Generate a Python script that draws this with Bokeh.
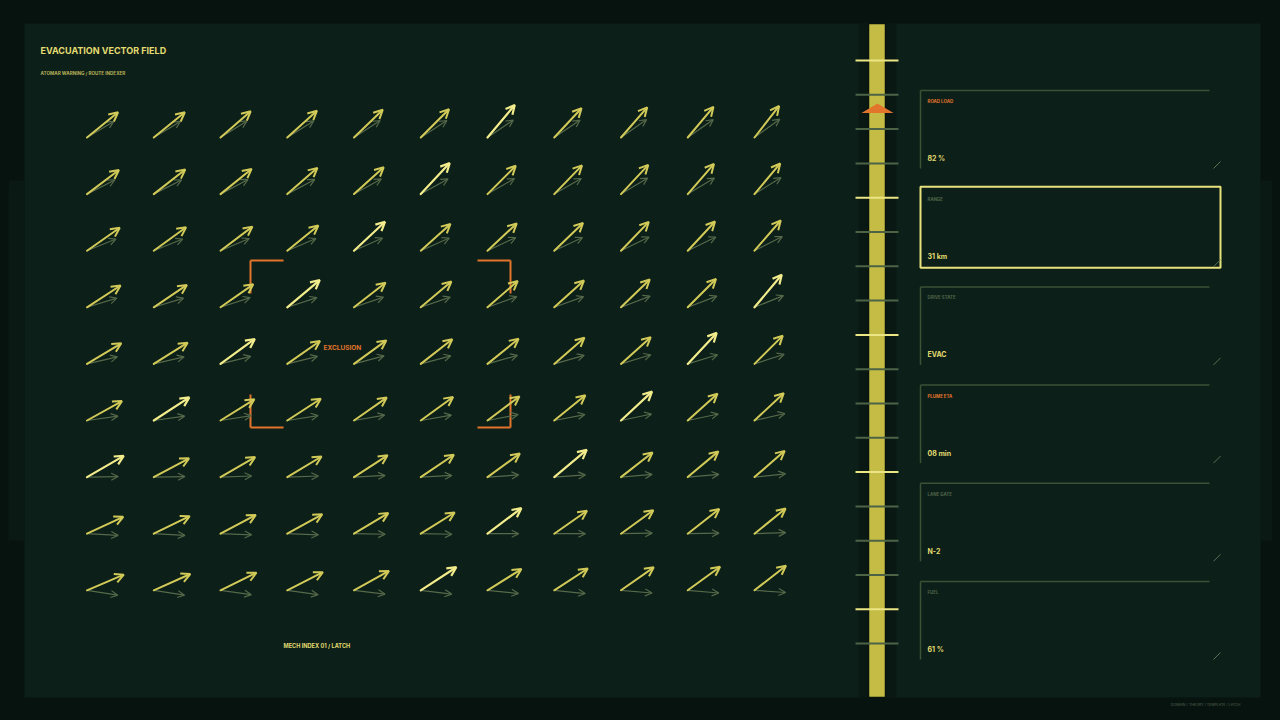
import numpy as np
from bokeh.plotting import figure
from bokeh.models import Range1d, Arrow, OpenHead, ColumnDataSource, Label
from bokeh.embed import file_html
from bokeh.resources import INLINE

# ---------------- data ----------------
title = "EVACUATION VECTOR FIELD"
subtitle = "ATOMAR WARNING / ROUTE INDEXER"
footer_note = "MECH INDEX 01 / LATCH"
credit_note = "DOMAIN / THEORY / TEMPLATE / LATCH"
zone_label = "EXCLUSION"

# routed flow direction (degrees above horizontal), rows top->bottom, cols left->right
flow_angle = [
    [39, 39, 41, 42, 44, 45, 47, 47, 49, 50, 52],
    [37, 38, 39, 41, 42, 44, 45, 46, 47, 49, 50],
    [35, 36, 37, 39, 40, 42, 43, 44, 46, 47, 49],
    [33, 34, 35, 37, 38, 40, 41, 42, 44, 45, 47],
    [31, 32, 33, 35, 36, 38, 39, 41, 42, 44, 45],
    [29, 30, 32, 33, 35, 36, 37, 39, 40, 42, 43],
    [27, 28, 30, 31, 33, 34, 36, 37, 38, 40, 41],
    [25, 26, 28, 29, 31, 32, 34, 35, 36, 38, 39],
    [23, 24, 26, 27, 29, 30, 32, 33, 35, 36, 38],
]
# raw (unrouted) wind direction, degrees
base_angle = [
    [31, 31, 32, 32, 33, 33, 34, 34, 35, 35, 36],
    [27, 27, 28, 28, 29, 29, 30, 30, 31, 31, 32],
    [22, 22, 23, 23, 24, 24, 25, 25, 26, 26, 27],
    [17, 17, 18, 18, 19, 19, 20, 20, 21, 21, 22],
    [13, 13, 14, 14, 15, 15, 16, 16, 17, 17, 18],
    [8, 8, 9, 9, 10, 10, 11, 11, 12, 12, 13],
    [1, 1, 2, 2, 3, 3, 4, 4, 5, 5, 6],
    [-3, -3, -2, -2, -1, -1, 0, 0, 1, 1, 2],
    [-9, -9, -8, -8, -7, -7, -6, -6, -5, -5, -4],
]
flow_speed = 1.0
base_speed = 0.78
# latched cells (row, col) with boosted flow
latched_cells = [(0, 6), (1, 5), (2, 4), (3, 3), (3, 10), (4, 2), (4, 9),
                 (5, 1), (5, 8), (6, 0), (6, 7), (7, 6), (8, 5)]
latched_speed = 1.06
latched_turn = 3

card_labels = ["ROAD LOAD", "RANGE", "DRIVE STATE", "PLUME ETA", "LANE GATE", "FUEL"]
card_values = ["82 %", "31 km", "EVAC", "08 min", "N-2", "61 %"]
card_alert = [True, False, False, True, False, False]
active_card = 1

gauge_ticks = 18
gauge_major_every = 4
gauge_marker = 1.4  # in tick units from the top

# ---------------- style ----------------
BG = "#07130f"
BAND = "#0a1914"
PANEL = "#0c1f18"
YEL = "#d2ca58"
YEL_HI = "#f2ec8c"
FAINT = "#56694a"
ORANGE = "#e2742c"
CARD_LINE = "#3b5236"
DIM_TXT = "#4f6449"
TXT = "#e4dc72"

W, H = 1264, 704
p = figure(width=W, height=H, x_range=Range1d(8, 8 + W), y_range=Range1d(8 + H, 8),
           output_backend="svg", toolbar_location=None, x_axis_type=None, y_axis_type=None,
           min_border=0, background_fill_color=BG, border_fill_color=BG)
p.outline_line_color = None
p.xgrid.visible = False
p.ygrid.visible = False

# backdrop bands + panel
p.quad(left=[8, 1260], right=[24, 1272], top=[180, 180], bottom=[540, 540],
       fill_color=BAND, line_color=None)
p.quad(left=[24], right=[1260], top=[23], bottom=[697], fill_color=PANEL, line_color=None)
p.quad(left=[858], right=[896], top=[23], bottom=[697], fill_color="#0a1813", line_color=None)

# ---------------- vector field ----------------
gx0, gdx = 86.5, 66.75
gy0, gdy = 137.0, 56.6
L = 40.0
fa = np.radians(np.array(flow_angle, dtype=float))
ba = np.radians(np.array(base_angle, dtype=float))
rows, cols = np.indices(fa.shape)
tx = gx0 + cols * gdx
ty = gy0 + rows * gdy

latched = np.zeros(fa.shape, dtype=bool)
for r, c in latched_cells:
    latched[r, c] = True
sp = np.where(latched, latched_speed, flow_speed)
fa2 = fa + np.where(latched, np.radians(latched_turn), 0.0)

bx = tx + L * base_speed * np.cos(ba)
by = ty - L * base_speed * np.sin(ba)
fx = tx + L * sp * np.cos(fa2)
fy = ty - L * sp * np.sin(fa2)

def add_arrows(mask, xe, ye, color, width, head):
    src = ColumnDataSource(dict(x0=tx[mask], y0=ty[mask], x1=xe[mask], y1=ye[mask]))
    p.add_layout(Arrow(source=src, x_start="x0", y_start="y0", x_end="x1", y_end="y1",
                       line_color=color, line_width=width, line_cap="round",
                       end=OpenHead(size=head, line_color=color, line_width=width)))

allm = np.ones(fa.shape, dtype=bool)
add_arrows(allm, bx, by, FAINT, 1.2, 7)
add_arrows(~latched, fx, fy, YEL, 2.0, 9)
add_arrows(latched, fx, fy, YEL_HI, 2.2, 9)

# exclusion zone brackets
zx0, zx1, zy0, zy1, arm = 250, 510, 260, 427, 33
bx0 = [zx0, zx0, zx1 - arm, zx1, zx0, zx0, zx1 - arm, zx1]
by0 = [zy0, zy0, zy0, zy0, zy1, zy1 - arm, zy1, zy1 - arm]
bx1 = [zx0 + arm, zx0, zx1, zx1, zx0 + arm, zx0, zx1, zx1]
by1 = [zy0, zy0 + arm, zy0, zy0 + arm, zy1, zy1, zy1, zy1]
p.segment(x0=bx0, y0=by0, x1=bx1, y1=by1, line_color=ORANGE, line_width=2)
p.add_layout(Label(x=323, y=347, text=zone_label, text_font="Inter", text_font_style="bold",
                   text_font_size="6.5px", text_color=ORANGE, text_baseline="middle"))

# titles
p.add_layout(Label(x=40, y=50, text=title, text_font="Inter", text_font_style="bold",
                   text_font_size="9px", text_color=TXT, text_baseline="middle"))
p.add_layout(Label(x=40, y=73, text=subtitle, text_font="Inter", text_font_style="bold",
                   text_font_size="4.6px", text_color="#b8b05a", text_baseline="middle"))
p.add_layout(Label(x=283, y=645, text=footer_note, text_font="Inter", text_font_style="bold",
                   text_font_size="5.6px", text_color=TXT, text_baseline="middle"))
p.add_layout(Label(x=1240, y=704, text=credit_note, text_font="Inter",
                   text_font_size="3.6px", text_color="#55664f", text_baseline="middle",
                   text_align="right"))

# ---------------- gauge ----------------
p.quad(left=[868], right=[885], top=[23], bottom=[697], fill_color="#c5bc46",
       line_color="#08130e", line_width=1.5)
t0, tstep = 60.0, 34.3
ty_g = t0 + np.arange(gauge_ticks) * tstep
major = (np.arange(gauge_ticks) % gauge_major_every) == 0
p.segment(x0=855, x1=898, y0=ty_g[~major], y1=ty_g[~major], line_color="#4d6346", line_width=2)
p.segment(x0=855, x1=898, y0=ty_g[major], y1=ty_g[major], line_color="#ece584", line_width=2)
my = t0 + gauge_marker * tstep
p.patch(x=[877, 893, 861], y=[my - 5, my + 4.5, my + 4.5], fill_color=ORANGE, line_color=None)

# ---------------- cards ----------------
cx0, cx1, ctop0, cstep, ch = 920, 1209, 90.0, 98.2, 78
for i, (lab, val) in enumerate(zip(card_labels, card_values)):
    top = ctop0 + i * cstep
    if i == active_card:
        p.quad(left=[cx0], right=[1220], top=[top - 2], bottom=[top + ch + 1],
               fill_color=None, line_color="#e8e27c", line_width=2)
    else:
        p.segment(x0=[cx0, cx0], y0=[top, top], x1=[cx1, cx0], y1=[top, top + ch],
                  line_color=CARD_LINE, line_width=1.5)
    p.segment(x0=[1213], y0=[top + ch], x1=[1220], y1=[top + ch - 7],
              line_color="#5d7055", line_width=1)
    p.add_layout(Label(x=927, y=top + 11, text=lab, text_font="Inter", text_font_style="bold",
                       text_font_size="4.4px", text_color=ORANGE if card_alert[i] else DIM_TXT,
                       text_baseline="middle"))
    p.add_layout(Label(x=927, y=top + 68, text=val, text_font="Inter", text_font_style="bold",
                       text_font_size="7px", text_color=TXT, text_baseline="middle"))

html = file_html(p, INLINE)
grad = ("linear-gradient(to bottom, %s 0px, %s 180px, %s 180px, %s 540px, %s 540px, %s 720px)"
        % (BG, BG, BAND, BAND, BG, BG))
html = html.replace("</head>", "<style>html{background:%s;} body{margin:8px;background:%s;}</style></head>"
                    % (BG, grad), 1)
open("out.html", "w").write(html)
